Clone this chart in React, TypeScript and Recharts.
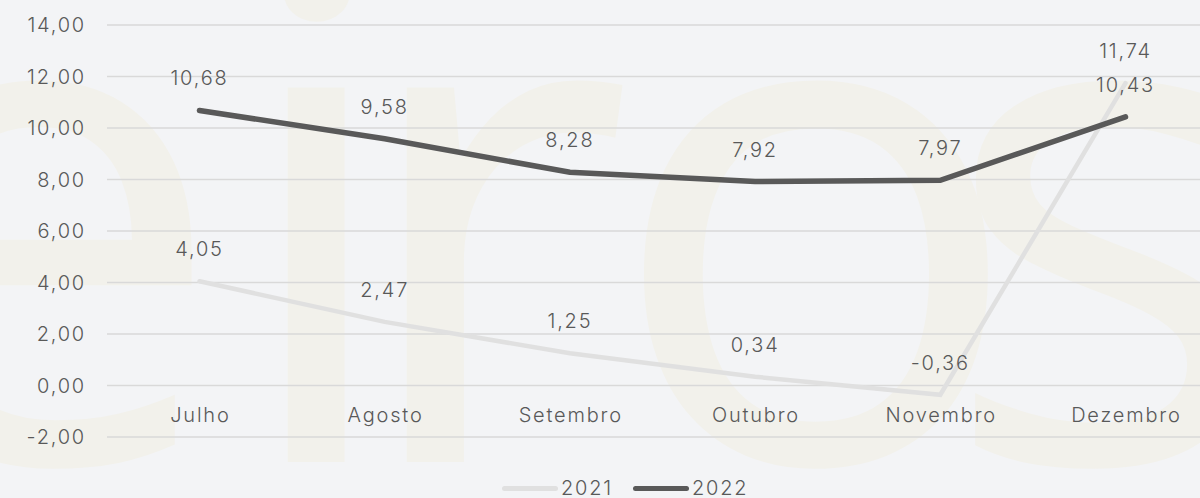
import { LineChart, Line, XAxis, YAxis, CartesianGrid, LabelList } from "recharts";

const months = ["Julho", "Agosto", "Setembro", "Outubro", "Novembro", "Dezembro"];
const values2021 = [4.05, 2.47, 1.25, 0.34, -0.36, 11.74];
const values2022 = [10.68, 9.58, 8.28, 7.92, 7.97, 10.43];
const yTicks = [-2, 0, 2, 4, 6, 8, 10, 12, 14];

const data = months.map((month, i) => ({
  month,
  y2021: values2021[i],
  y2022: values2022[i],
}));

const TEXT = "#595959";
const FONT = "Inter, sans-serif";
const WEIGHT = 300;
const SPACING = 1.8;
const fmt = (v: number) => v.toFixed(2).replace(".", ",");

function MonthTick({ x, y, payload }: any) {
  return (
    <text
      x={x + SPACING / 2}
      y={y - 22}
      textAnchor="middle"
      dominantBaseline="central"
      fill={TEXT}
      fontSize={20}
      fontWeight={WEIGHT}
      fontFamily={FONT}
      letterSpacing={SPACING}
    >
      {payload.value}
    </text>
  );
}

function ChartLegend() {
  const items = [
    { name: "2021", color: "#e0e0e0" },
    { name: "2022", color: "#595959" },
  ];
  return (
    <div style={{ display: "flex", gap: 20, alignItems: "center", position: "absolute", left: 502, top: 476 }}>
      {items.map((it) => (
        <div key={it.name} style={{ display: "flex", alignItems: "center", gap: 3 }}>
          <span style={{ width: 56, height: 5, borderRadius: 3, background: it.color, display: "inline-block" }} />
          <span style={{ fontFamily: FONT, fontWeight: WEIGHT, fontSize: 20, color: TEXT, letterSpacing: SPACING, lineHeight: "24px" }}>
            {it.name}
          </span>
        </div>
      ))}
    </div>
  );
}

const watermark = [
  { ch: "e", x: -165 },
  { ch: "i", x: 228 },
  { ch: "r", x: 347 },
  { ch: "o", x: 605 },
  { ch: "s", x: 940 },
];

const labelStyle = { fill: TEXT, fontSize: 20, fontFamily: FONT, fontWeight: WEIGHT, letterSpacing: SPACING };

export default function App() {
  return (
    <div style={{ position: "absolute", left: 0, top: 0, width: 1200, height: 498, overflow: "hidden", background: "#f3f4f6" }}>
      <svg width={1200} height={498} style={{ position: "absolute", left: 0, top: 0 }}>
        {watermark.map((w) => (
          <text key={w.ch} x={w.x} y={462} fontSize={700} fontFamily="'Open Sans', sans-serif" fill="#f2f1eb">
            {w.ch}
          </text>
        ))}
      </svg>
      <div style={{ position: "absolute", left: 0, top: 0 }}>
        <LineChart width={1218} height={498} data={data} margin={{ top: 25, right: 0, bottom: 60, left: 0 }}>
          <CartesianGrid vertical={false} stroke="#d9d9d9" strokeWidth={1.5} />
          <XAxis
            dataKey="month"
            axisLine={false}
            tickLine={false}
            tickSize={0}
            tickMargin={0}
            height={1}
            padding={{ left: 92.5, right: 92.5 }}
            tick={<MonthTick />}
            interval={0}
          />
          <YAxis
            width={107}
            domain={[-2, 14]}
            ticks={yTicks}
            axisLine={false}
            tickLine={false}
            tickSize={0}
            tickMargin={21}
            tickFormatter={fmt}
            tick={labelStyle}
          />
          <Line
            type="linear"
            dataKey="y2021"
            stroke="#e0e0e0"
            strokeWidth={4.5}
            strokeLinecap="round"
            dot={false}
            isAnimationActive={false}
          >
            <LabelList dataKey="y2021" position="top" offset={25} formatter={(v: any) => fmt(Number(v))} style={labelStyle} />
          </Line>
          <Line
            type="linear"
            dataKey="y2022"
            stroke="#595959"
            strokeWidth={5.5}
            strokeLinecap="round"
            dot={false}
            isAnimationActive={false}
          >
            <LabelList dataKey="y2022" position="top" offset={25} formatter={(v: any) => fmt(Number(v))} style={labelStyle} />
          </Line>
        </LineChart>
      </div>
      <ChartLegend />
    </div>
  );
}
